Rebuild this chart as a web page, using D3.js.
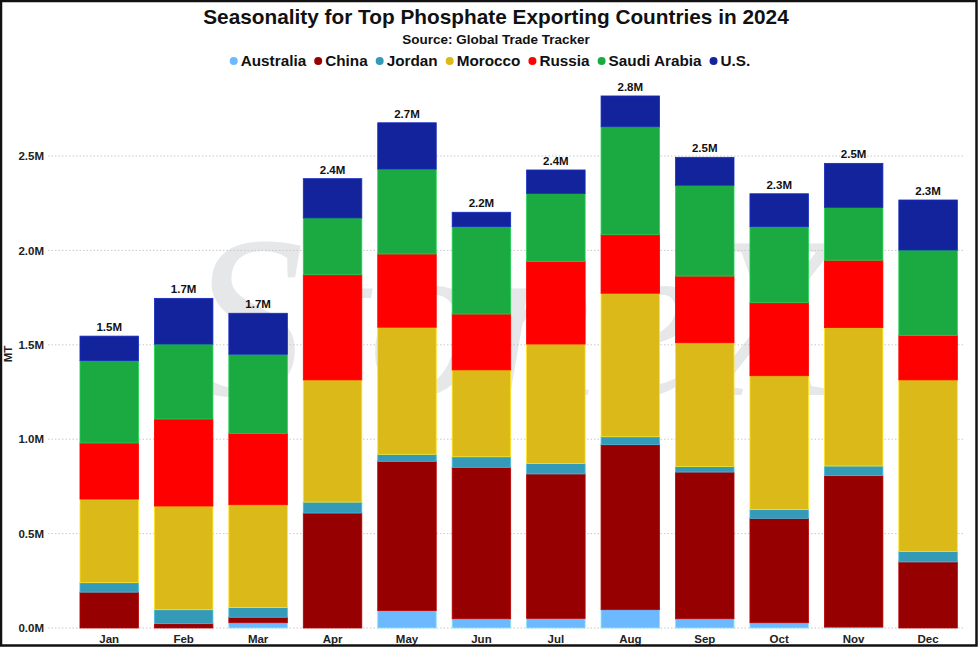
<!DOCTYPE html>
<html><head><meta charset="utf-8">
<script src="https://cdn.jsdelivr.net/npm/d3@7"></script>
<style>
html,body{margin:0;padding:0;background:#fff;}
svg{display:block;font-family:"Liberation Sans",Arial,sans-serif;}
</style></head>
<body><svg id="chart" width="979" height="648"></svg>
<script>
const months = ["Jan","Feb","Mar","Apr","May","Jun","Jul","Aug","Sep","Oct","Nov","Dec"];
const seriesNames = ["Australia","China","Jordan","Morocco","Russia","Saudi Arabia","U.S."];
const seriesColors = ["#6db9ff","#960000","#3599b8","#dab918","#ff0000","#1baa42","#12239b"];
// values in million metric tonnes
const australia = [0, 0, 0.028, 0, 0.092, 0.049, 0.051, 0.097, 0.049, 0.028, 0.005, 0];
const china     = [0.190, 0.023, 0.029, 0.609, 0.791, 0.802, 0.765, 0.874, 0.777, 0.553, 0.802, 0.350];
const jordan    = [0.050, 0.074, 0.051, 0.058, 0.037, 0.056, 0.056, 0.042, 0.030, 0.046, 0.051, 0.056];
const morocco   = [0.443, 0.549, 0.545, 0.647, 0.673, 0.460, 0.632, 0.760, 0.655, 0.709, 0.733, 0.908];
const russia    = [0.297, 0.461, 0.378, 0.557, 0.388, 0.296, 0.438, 0.310, 0.353, 0.387, 0.357, 0.236];
const saudi     = [0.436, 0.397, 0.419, 0.301, 0.450, 0.463, 0.360, 0.572, 0.481, 0.403, 0.280, 0.452];
const us        = [0.130, 0.242, 0.217, 0.208, 0.245, 0.076, 0.124, 0.163, 0.148, 0.174, 0.233, 0.265];
const yTicks = [0, 0.5, 1.0, 1.5, 2.0, 2.5];

const seriesValues = [australia, china, jordan, morocco, russia, saudi, us];
const table = months.map((m, i) => {
  const row = {month: m};
  seriesNames.forEach((s, j) => row[s] = seriesValues[j][i]);
  return row;
});

const svg = d3.select("#chart");
const W = 979, H = 648;

// watermark
svg.append("text")
  .attr("x", 515).attr("y", 395)
  .attr("text-anchor", "middle")
  .attr("font-size", 230)
  .attr("font-style", "italic")
  .attr("fill", "#e6e7e9")
  .attr("font-family", "Liberation Serif, serif")
  .text("StoneX");

const x = d3.scaleBand().domain(months).range([72, 965.3]).paddingInner(0.214).paddingOuter(0.107);
const y = d3.scaleLinear().domain([0, 2.5]).range([628, 156]);

// gridlines
svg.append("g").selectAll("line").data(yTicks).join("line")
  .attr("x1", 48).attr("x2", 965)
  .attr("y1", d => y(d)).attr("y2", d => y(d))
  .attr("stroke", "#c8c8c8").attr("stroke-width", 1)
  .attr("stroke-dasharray", "1.5,2");

// y axis
const yAxis = d3.axisLeft(y).tickValues(yTicks).tickSize(0).tickPadding(0)
  .tickFormat(d => d.toFixed(1) + "M");
const gy = svg.append("g").attr("transform", "translate(44,0)").call(yAxis);
gy.select(".domain").remove();
gy.selectAll("text").attr("font-size", 11.5).attr("font-weight", "bold")
  .attr("fill", "#222").attr("font-family", "Liberation Sans, Arial, sans-serif");

// x axis
const xAxis = d3.axisBottom(x).tickSize(0).tickPadding(6);
const gx = svg.append("g").attr("transform", "translate(0,629)").call(xAxis);
gx.select(".domain").remove();
gx.selectAll("text").attr("font-size", 11.5).attr("font-weight", "bold")
  .attr("fill", "#222").attr("font-family", "Liberation Sans, Arial, sans-serif");

// MT label
svg.append("text")
  .attr("transform", "translate(12,354) rotate(-90)")
  .attr("text-anchor", "middle")
  .attr("font-size", 11.5).attr("font-weight", "bold").attr("fill", "#222")
  .text("MT");

// stacked bars
const stack = d3.stack().keys(seriesNames);
const layers = stack(table);
svg.append("g").selectAll("g").data(layers).join("g")
  .attr("fill", (d, i) => seriesColors[i])
  .attr("stroke", (d, i) => d3.color(seriesColors[i]).brighter(0.6))
  .attr("stroke-width", 0.8)
  .selectAll("rect").data(d => d.filter(p => p[1] - p[0] > 0)).join("rect")
  .attr("x", d => x(d.data.month))
  .attr("width", x.bandwidth())
  .attr("y", d => y(d[1]))
  .attr("height", d => y(d[0]) - y(d[1]));

// totals
const totals = table.map(r => ({month: r.month, total: d3.sum(seriesNames, s => r[s])}));
svg.append("g").selectAll("text").data(totals).join("text")
  .attr("x", d => x(d.month) + x.bandwidth() / 2)
  .attr("y", d => y(d.total) - 5)
  .attr("text-anchor", "middle")
  .attr("font-size", 11.5).attr("font-weight", "bold").attr("fill", "#111")
  .text(d => d.total.toFixed(1) + "M");

// title
svg.append("text").attr("x", 496).attr("y", 24)
  .attr("text-anchor", "middle").attr("font-size", 20.8).attr("font-weight", "bold")
  .attr("fill", "#111").text("Seasonality for Top Phosphate Exporting Countries in 2024");
svg.append("text").attr("x", 496).attr("y", 44)
  .attr("text-anchor", "middle").attr("font-size", 13.5).attr("font-weight", "bold")
  .attr("fill", "#111").text("Source: Global Trade Tracker");

// legend
const leg = svg.append("g");
const items = leg.selectAll("g").data(seriesNames).join("g");
items.append("circle").attr("r", 4).attr("cy", -5).attr("fill", (d, i) => seriesColors[i]);
items.append("text").attr("x", 7).attr("font-size", 15.3).attr("font-weight", "bold")
  .attr("fill", "#111").text(d => d);
let cx = 0;
const gap = 8;
items.each(function() {
  const g = d3.select(this);
  const w = g.select("text").node().getComputedTextLength();
  g.attr("transform", `translate(${cx},66)`);
  cx += 7 + w + gap + 4;
});
const legW = cx - gap - 4;
leg.attr("transform", `translate(${496 - legW / 2 - 4},0)`);

// outer frame
svg.append("rect").attr("x", 1).attr("y", 1).attr("width", W - 3.5).attr("height", H - 3.5)
  .attr("fill", "none").attr("stroke", "#111").attr("stroke-width", 2.5);
</script></body></html>
